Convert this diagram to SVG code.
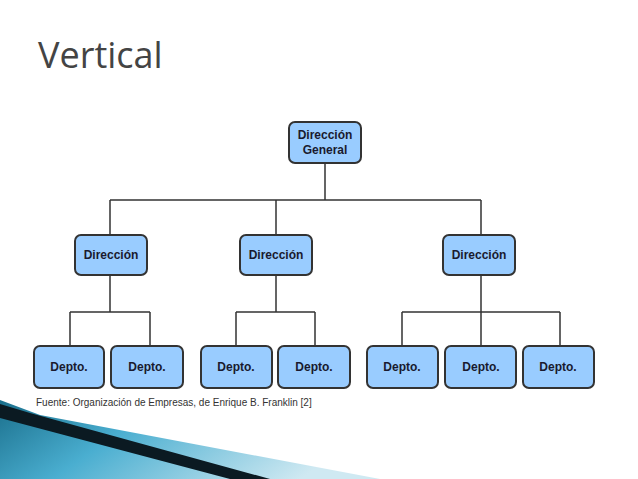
<svg xmlns="http://www.w3.org/2000/svg" width="638" height="479" viewBox="0 0 638 479">
<defs>
<style>
.n rect{fill:#99ccff;stroke:#333;stroke-width:2}
.n text{font-family:"Liberation Sans",Arial,sans-serif;font-weight:bold;font-size:12px;fill:#1a1a2e;text-anchor:middle}
#connectors path{fill:none;stroke:#333;stroke-width:1.5}
</style>
<linearGradient id="sw" x1="0" y1="0" x2="1" y2="0.3">
<stop offset="0" stop-color="#1a6f8c"/><stop offset="0.4" stop-color="#4aaed0"/><stop offset="1" stop-color="#cfe9f2"/>
</linearGradient>
</defs>
<rect width="638" height="479" fill="#fff"/>
<text x="38" y="68" font-family="Open Sans,'DejaVu Sans',sans-serif" font-size="36" fill="#444">Vertical</text>
<polygon points="0,400 40,415 380,479 0,479" fill="url(#sw)"/>
<polygon points="0,404 30,413 270,479 230,479 0,418" fill="#0b1a22"/>
<g id="connectors">
<path d="M325 163V200M110 200H481M110 200V235M276 200V235M481 200V235"/>
<path d="M110 275V312M70 312H150M70 312V346M150 312V346"/>
<path d="M276 275V312M236 312H315M236 312V346M315 312V346"/>
<path d="M481 275V312M402 312H560M402 312V346M481 312V346M560 312V346"/>
</g>
<g id="root" class="n"><rect x="289" y="122" width="72" height="41" rx="6"/><text x="325" y="139">Dirección</text><text x="325" y="154">General</text></g>
<g id="d1" class="n"><rect x="75" y="235" width="72" height="40" rx="6"/><text x="111" y="259">Dirección</text></g>
<g id="d2" class="n"><rect x="240" y="235" width="72" height="40" rx="6"/><text x="276" y="259">Dirección</text></g>
<g id="d3" class="n"><rect x="443" y="235" width="72" height="40" rx="6"/><text x="479" y="259">Dirección</text></g>
<g id="p1" class="n"><rect x="34" y="346" width="70" height="42" rx="6"/><text x="69" y="371">Depto.</text></g>
<g id="p2" class="n"><rect x="111" y="346" width="72" height="42" rx="6"/><text x="147" y="371">Depto.</text></g>
<g id="p3" class="n"><rect x="201" y="346" width="71" height="42" rx="6"/><text x="236" y="371">Depto.</text></g>
<g id="p4" class="n"><rect x="278" y="346" width="72" height="42" rx="6"/><text x="314" y="371">Depto.</text></g>
<g id="p5" class="n"><rect x="367" y="346" width="71" height="42" rx="6"/><text x="402" y="371">Depto.</text></g>
<g id="p6" class="n"><rect x="445" y="346" width="71" height="42" rx="6"/><text x="481" y="371">Depto.</text></g>
<g id="p7" class="n"><rect x="523" y="346" width="71" height="42" rx="6"/><text x="558" y="371">Depto.</text></g>
<text x="36" y="406" font-family="Liberation Sans,Arial,sans-serif" font-size="10" fill="#333">Fuente: Organización de Empresas, de Enrique B. Franklin [2]</text>
</svg>
